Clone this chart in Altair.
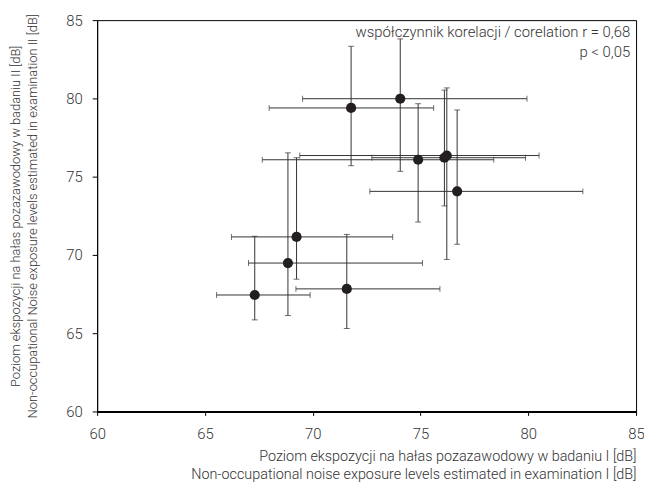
import altair as alt
import pandas as pd

# values
x_mean = [71.78, 74.06, 74.89, 76.11, 76.22, 76.70, 69.25, 68.85, 67.31, 71.58]
y_mean = [79.39, 79.98, 76.08, 76.21, 76.35, 74.06, 71.15, 69.48, 67.44, 67.83]
x_low = [67.98, 69.53, 67.66, 72.74, 69.40, 72.65, 66.23, 67.02, 65.54, 69.22]
x_high = [75.61, 79.94, 78.40, 79.87, 80.50, 82.53, 73.71, 75.09, 69.88, 75.90]
y_low = [75.70, 75.34, 72.10, 73.13, 69.71, 70.68, 68.45, 66.13, 65.85, 65.30]
y_high = [83.33, 83.80, 79.66, 80.53, 80.67, 79.26, 76.21, 76.52, 71.19, 71.31]

axis_ticks = [60, 65, 70, 75, 80, 85]
note_lines = ["współczynnik korelacji / corelation r = 0,68", "p < 0,05"]
x_title = ["Poziom ekspozycji na hałas pozazawodowy w badaniu I [dB]",
           "Non-occupational noise exposure levels estimated in examination I [dB]"]
y_title = ["Poziom ekspozycji na hałas pozazawodowy w badaniu II [dB]",
           "Non-occupational Noise exposure levels estimated in examination II [dB]"]

df = pd.DataFrame({"x": x_mean, "y": y_mean, "xlo": x_low, "xhi": x_high,
                   "ylo": y_low, "yhi": y_high})

FONT = "Roboto"
TXT = "#333333"
BAR = "#333333"
DOT = "#231f20"

xs = alt.Scale(domain=[60, 85], nice=False, zero=False)
ys = alt.Scale(domain=[60, 85], nice=False, zero=False)

xaxis = alt.Axis(values=axis_ticks, title=x_title, grid=False, domainWidth=2,
                 domainColor="black", tickColor="black", tickSize=4,
                 labelPadding=11, labelFontSize=15, labelColor=TXT,
                 labelFont=FONT, labelFontWeight=300, labelFlush=False,
                 titleFont=FONT, titleFontSize=14.5, titleFontWeight=300,
                 titleColor=TXT, titleAnchor="end", titleLineHeight=18,
                 titlePadding=9)
yaxis = alt.Axis(values=axis_ticks, title=y_title, grid=False, domainWidth=1,
                 domainColor="black", tickColor="black", tickSize=5,
                 labelPadding=10, labelFontSize=15, labelColor=TXT,
                 labelFont=FONT, labelFontWeight=300, labelFlush=False,
                 titleFont=FONT, titleFontSize=13, titleFontWeight=300,
                 titleColor=TXT, titleLineHeight=16.5, titlePadding=27)

base = alt.Chart(df)

hbars = base.mark_rule(color=BAR, strokeWidth=1).encode(
    x=alt.X("xlo:Q", scale=xs, axis=xaxis), x2="xhi:Q",
    y=alt.Y("y:Q", scale=ys, axis=yaxis))
vbars = base.mark_rule(color=BAR, strokeWidth=1).encode(
    x=alt.X("x:Q", scale=xs), y=alt.Y("ylo:Q", scale=ys), y2="yhi:Q")

cap_l = base.mark_tick(orient="vertical", color=BAR, size=6, thickness=1).encode(
    x=alt.X("xlo:Q", scale=xs), y=alt.Y("y:Q", scale=ys))
cap_r = base.mark_tick(orient="vertical", color=BAR, size=6, thickness=1).encode(
    x=alt.X("xhi:Q", scale=xs), y=alt.Y("y:Q", scale=ys))
cap_b = base.mark_tick(orient="horizontal", color=BAR, size=6, thickness=1).encode(
    x=alt.X("x:Q", scale=xs), y=alt.Y("ylo:Q", scale=ys))
cap_t = base.mark_tick(orient="horizontal", color=BAR, size=6, thickness=1).encode(
    x=alt.X("x:Q", scale=xs), y=alt.Y("yhi:Q", scale=ys))

dots = base.mark_circle(size=105, color=DOT, opacity=1).encode(
    x=alt.X("x:Q", scale=xs), y=alt.Y("y:Q", scale=ys))

note1 = alt.Chart(pd.DataFrame({"t": [note_lines[0]]})).mark_text(
    align="right", baseline="middle", font=FONT, fontSize=15, fontWeight=300,
    color=TXT
).encode(x=alt.value(538), y=alt.value(12), text="t:N")
note2 = alt.Chart(pd.DataFrame({"t": [note_lines[1]]})).mark_text(
    align="right", baseline="middle", font=FONT, fontSize=15, fontWeight=300,
    color=TXT
).encode(x=alt.value(538), y=alt.value(32), text="t:N")

chart = alt.layer(hbars, vbars, cap_l, cap_r, cap_b, cap_t, dots, note1, note2).properties(
    width=544, height=395,
    autosize=alt.AutoSizeParams(type="none"),
    padding={"left": 90, "top": 10, "right": 8, "bottom": 72},
).configure_view(stroke="black", strokeWidth=1)

chart.save("out.html", embed_options={"renderer": "svg", "actions": False})
